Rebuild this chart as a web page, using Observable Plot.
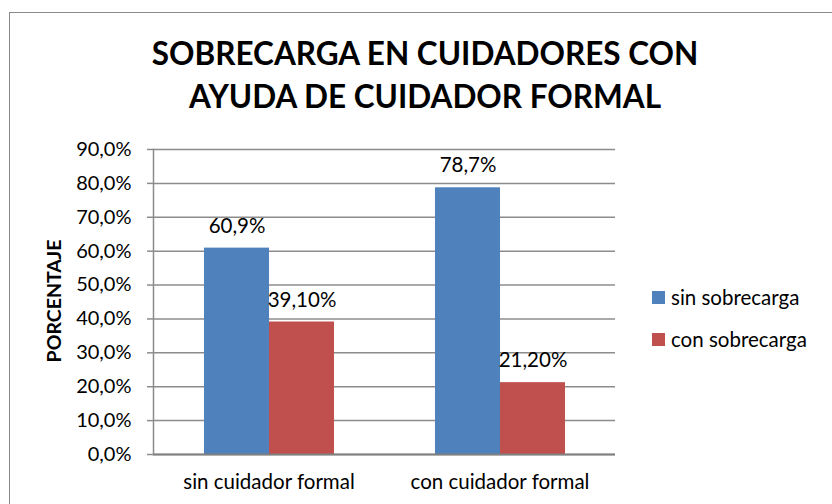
<!DOCTYPE html>
<html>
<head>
<meta charset="utf-8">
<script src="https://cdn.jsdelivr.net/npm/d3@7"></script>
<script src="https://cdn.jsdelivr.net/npm/@observablehq/plot@0.6"></script>
<style>
  body { margin: 0; background: #fff; }
  #wrap { position: relative; width: 832px; height: 504px; overflow: hidden; font-family: Lato, "Open Sans", sans-serif; color: #000; background: #fff; }
  #frame { position: absolute; left: 9px; top: 12px; width: 900px; height: 600px; border: 1px solid #8a8a8a; box-sizing: border-box; }
  #chart { position: absolute; left: 0; top: 0; }
  #title { position: absolute; left: 0; top: 32px; width: 850px; text-align: center; font-weight: bold; font-size: 31.5px; line-height: 43px; }
  #ylabel { position: absolute; left: 53px; top: 301px; transform: translate(-50%, -50%) rotate(-90deg); font-weight: bold; font-size: 19.5px; white-space: nowrap; }
  #legend { position: absolute; left: 652px; top: 284px; font-size: 20.5px; }
  .item { display: flex; align-items: center; height: 26px; margin-bottom: 16px; white-space: nowrap; }
  .sw { width: 13px; height: 13px; margin-right: 6px; flex: none; }
</style>
</head>
<body>
<div id="wrap">
  <div id="frame"></div>
  <div id="chart"></div>
  <div id="title"></div>
  <div id="ylabel"></div>
  <div id="legend"></div>
</div>
<script>
const titleLines = ["SOBRECARGA EN CUIDADORES CON", "AYUDA DE CUIDADOR FORMAL"];
const yLabel = "PORCENTAJE";
const categories = ["sin cuidador formal", "con cuidador formal"];
const series = ["sin sobrecarga", "con sobrecarga"];
const sinSobrecarga = [60.9, 78.7];
const conSobrecarga = [39.1, 21.2];
const labelsSin = ["60,9%", "78,7%"];
const labelsCon = ["39,10%", "21,20%"];
const yTicks = [0, 10, 20, 30, 40, 50, 60, 70, 80, 90];
const colors = ["#4F81BD", "#C0504D"];

const data = categories.flatMap((c, i) => [
  { cat: c, serie: series[0], value: sinSobrecarga[i], label: labelsSin[i] },
  { cat: c, serie: series[1], value: conSobrecarga[i], label: labelsCon[i] }
]);

const gridColor = "#8c8c8c";
const fmt = d => d.toFixed(1).replace(".", ",") + "%";

const plot = Plot.plot({
  width: 832,
  height: 504,
  marginLeft: 152,
  marginRight: 217,
  marginTop: 149,
  marginBottom: 50,
  style: { fontFamily: "Lato, 'Open Sans', sans-serif", color: "#000", background: "transparent" },
  fx: { domain: categories, padding: 0 },
  x: { domain: series, paddingInner: 0, paddingOuter: 0.754, axis: null },
  y: { domain: [0, 90] },
  color: { domain: series, range: colors },
  marks: [
    Plot.ruleY(yTicks, { stroke: gridColor, strokeWidth: 1.5 }),
    Plot.barY(data, { fx: "cat", x: "serie", y: "value", fill: "serie", inset: 0 }),
    Plot.ruleY([0], { stroke: "#808080", strokeWidth: 2 }),
    Plot.frame({ anchor: "left", facetAnchor: "left", stroke: gridColor, strokeWidth: 1.5 }),
    Plot.axisY({ ticks: yTicks, tickFormat: fmt, tickSize: 6, tickPadding: 16, fontSize: 20, stroke: gridColor, strokeWidth: 1.5, label: null, strokeOpacity: 1 }),
    Plot.axisFx({ anchor: "bottom", tickSize: 0, tickPadding: 20, fontSize: 20.5, label: null }),
    Plot.text(data, { fx: "cat", x: "serie", y: "value", text: "label", dy: -22, lineAnchor: "middle", fontSize: 20.5, fill: "#000" })
  ]
});
document.getElementById("chart").appendChild(plot);

document.getElementById("title").innerHTML = titleLines.map(t => `<div>${t}</div>`).join("");
document.getElementById("ylabel").textContent = yLabel;
document.getElementById("legend").innerHTML = series.map((s, i) =>
  `<div class="item"><span class="sw" style="background:${colors[i]}"></span><span>${s}</span></div>`
).join("");
</script>
</body>
</html>
